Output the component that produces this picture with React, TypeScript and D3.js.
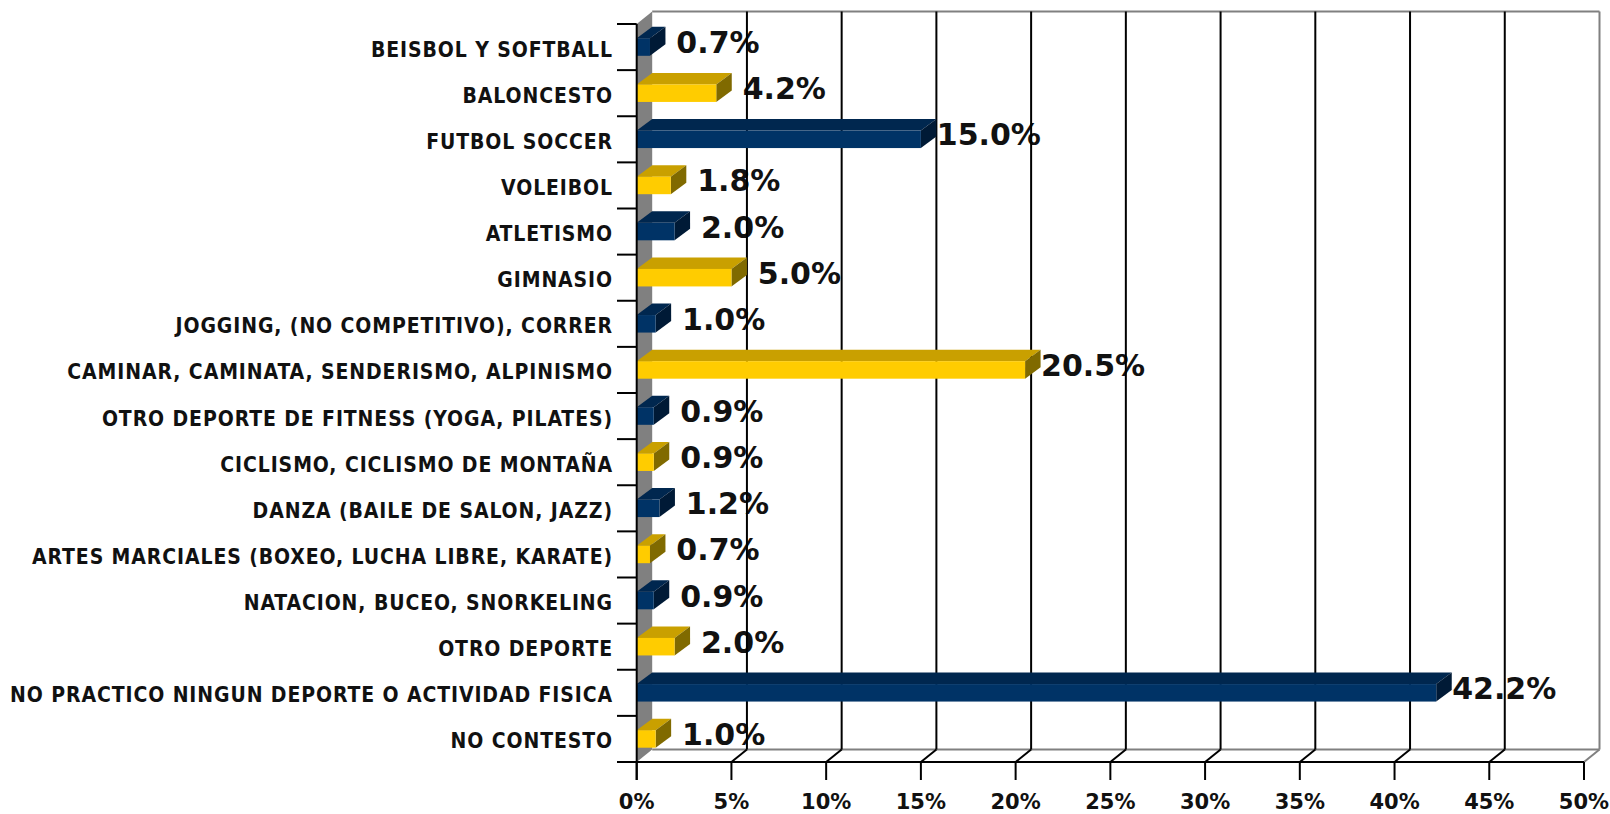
import React from "react";
import * as d3 from "d3";

const categories = [
  "BEISBOL Y SOFTBALL",
  "BALONCESTO",
  "FUTBOL SOCCER",
  "VOLEIBOL",
  "ATLETISMO",
  "GIMNASIO",
  "JOGGING, (NO COMPETITIVO), CORRER",
  "CAMINAR, CAMINATA, SENDERISMO, ALPINISMO",
  "OTRO DEPORTE DE FITNESS (YOGA, PILATES)",
  "CICLISMO, CICLISMO DE MONTAÑA",
  "DANZA (BAILE DE SALON, JAZZ)",
  "ARTES MARCIALES (BOXEO, LUCHA LIBRE, KARATE)",
  "NATACION, BUCEO, SNORKELING",
  "OTRO DEPORTE",
  "NO PRACTICO NINGUN DEPORTE O ACTIVIDAD FISICA",
  "NO CONTESTO",
];
const values = [0.7, 4.2, 15.0, 1.8, 2.0, 5.0, 1.0, 20.5, 0.9, 0.9, 1.2, 0.7, 0.9, 2.0, 42.2, 1.0];
const xTicks = [0, 5, 10, 15, 20, 25, 30, 35, 40, 45, 50];

const W = 1610;
const H = 814;
const X0 = 636.7;
const X1 = 1584;
const YT = 24;
const YB = 762;
const WDX = 15.5;
const WDY = -12.5;
const BDX = 15.5;
const BDY = -11.5;
const BH = 17.5;

const palettes = [
  { front: "#003366", top: "#00274f", side: "#001a36" },
  { front: "#ffcc00", top: "#c9a000", side: "#806a00" },
];

export default function App() {
  const x = d3.scaleLinear().domain([0, 50]).range([X0, X1]);
  const y = d3.scaleBand<string>().domain(categories).range([YT, YB]).padding(0);
  const bw = y.bandwidth();
  const labelFont = "'DejaVu Sans Condensed', 'DejaVu Sans', sans-serif";
  const valueFont = "'DejaVu Sans', Verdana, sans-serif";

  return (
    <div style={{ position: "fixed", left: 0, top: 0, width: W, height: H, background: "#fff" }}>
      <svg width={W} height={H} style={{ display: "block" }}>
        <rect width={W} height={H} fill="#fff" />
        {/* left wall */}
        <polygon
          points={`${X0},${YT} ${X0 + WDX},${YT + WDY} ${X0 + WDX},${YB + WDY} ${X0},${YB}`}
          fill="#808080"
        />
        {/* back top line & right edge */}
        <line x1={X0 + WDX} y1={YT + WDY} x2={X1 + WDX} y2={YT + WDY} stroke="#808080" strokeWidth={2} />
        <line x1={X1 + WDX} y1={YT + WDY} x2={X1 + WDX} y2={YB + WDY} stroke="#808080" strokeWidth={2} />
        <line x1={X0 + WDX} y1={YB + WDY} x2={X1 + WDX} y2={YB + WDY} stroke="#808080" strokeWidth={2} />
        <line x1={X1} y1={YB} x2={X1 + WDX} y2={YB + WDY} stroke="#808080" strokeWidth={2} />
        {/* value labels */}
        {categories.map((c, i) => (
          <text
            key={"v" + c}
            x={x(values[i]) + 68}
            y={(y(c) as number) + bw / 2 + 6}
            textAnchor="middle"
            fontFamily={valueFont}
            fontWeight="bold"
            fontSize={30}
            fill="#111"
          >
            {values[i].toFixed(1) + "%"}
          </text>
        ))}
        {/* back gridlines and floor diagonals */}
        {xTicks.slice(1, -1).map((t) => (
          <g key={"g" + t}>
            <line x1={x(t) + WDX} y1={YT + WDY} x2={x(t) + WDX} y2={YB + WDY} stroke="#000" strokeWidth={2} />
            <line x1={x(t)} y1={YB} x2={x(t) + WDX} y2={YB + WDY} stroke="#000" strokeWidth={2} />
          </g>
        ))}
        {/* bars */}
        {categories.map((c, i) => {
          const p = palettes[i % 2];
          const cy = (y(c) as number) + bw / 2;
          const y0 = cy - BH / 2;
          const y1 = cy + BH / 2;
          const xe = x(values[i]);
          return (
            <g key={"b" + c}>
              <polygon
                points={`${X0},${y0} ${X0 + BDX},${y0 + BDY} ${xe + BDX},${y0 + BDY} ${xe},${y0}`}
                fill={p.top}
              />
              <polygon
                points={`${xe},${y0} ${xe + BDX},${y0 + BDY} ${xe + BDX},${y1 + BDY} ${xe},${y1}`}
                fill={p.side}
              />
              <rect x={X0} y={y0} width={xe - X0} height={BH} fill={p.front} />
            </g>
          );
        })}
        {/* front axes */}
        <line x1={X0} y1={YT} x2={X0} y2={YB + 18} stroke="#000" strokeWidth={2} />
        <line x1={617} y1={YB} x2={X1} y2={YB} stroke="#000" strokeWidth={2} />
        {categories.map((c) => (
          <line key={"t" + c} x1={617} y1={y(c) as number} x2={X0} y2={y(c) as number} stroke="#000" strokeWidth={2} />
        ))}
        {xTicks.map((t) => (
          <g key={"xt" + t}>
            <line x1={x(t)} y1={YB} x2={x(t)} y2={YB + 18} stroke="#000" strokeWidth={2} />
            <text
              x={x(t)}
              y={808.5}
              textAnchor="middle"
              fontFamily={valueFont}
              fontWeight="bold"
              fontSize={21}
              fill="#111"
            >
              {t + "%"}
            </text>
          </g>
        ))}
        {/* category labels */}
        {categories.map((c) => (
          <text
            key={"l" + c}
            x={613}
            y={(y(c) as number) + bw / 2 + 9.5}
            textAnchor="end"
            fontFamily={labelFont}
            fontWeight="bold"
            fontSize={21}
            letterSpacing={0.9}
            fill="#111"
          >
            {c}
          </text>
        ))}
      </svg>
    </div>
  );
}
